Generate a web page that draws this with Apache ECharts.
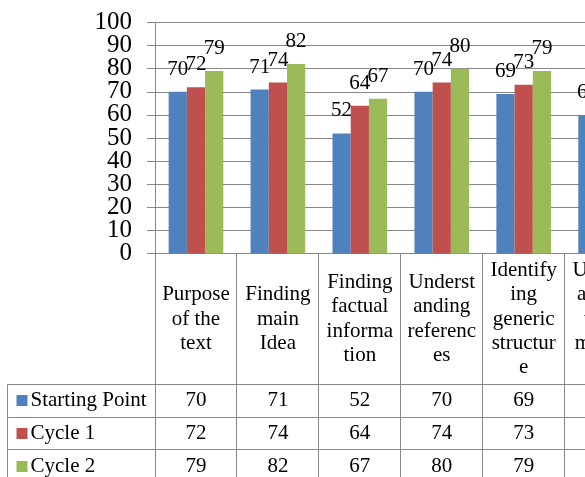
<!DOCTYPE html>
<html>
<head>
<meta charset="utf-8">
<script src="https://cdn.jsdelivr.net/npm/echarts@6/dist/echarts.min.js"></script>
<style>
  html, body { margin: 0; padding: 0; background: #fff; overflow: hidden; width: 585px; height: 477px; }
  #chart { width: 680px; height: 500px; }
</style>
</head>
<body>
<div id="chart"></div>
<script>
// Reading skill categories and scores per cycle
const categories = [
  'Purpose of the text',
  'Finding main Idea',
  'Finding factual information',
  'Understanding references',
  'Identifying generic structure',
  'Understanding word meaning'
];
const seriesNames = ['Starting Point', 'Cycle 1', 'Cycle 2'];
const startingPoint = [70, 71, 52, 70, 69, 60];
const cycle1 = [72, 74, 64, 74, 73, null];
const cycle2 = [79, 82, 67, 80, 79, null];
const yMin = 0, yMax = 100, yStep = 10;

const seriesValues = [startingPoint, cycle1, cycle2];
const colors = ['#4F81BD', '#C0504D', '#9BBB59'];
const FONT_FAMILY = '"Liberation Serif", "Times New Roman", serif';
const LINE = '#878787';
const TABLE_FONT = 21;
const HEADER_H = 131;
const ROW_H = 32.6;
const LEGEND_W = 147.5;
const WRAP_W = 70.5;

// Word wrap like a spreadsheet cell: words first, then characters for long words
const measureCtx = document.createElement('canvas').getContext('2d');
measureCtx.font = TABLE_FONT + 'px ' + FONT_FAMILY;
function textWidth(s) { return measureCtx.measureText(s).width; }
function wrapLabel(text, maxW) {
  const out = [];
  let line = '';
  text.split(' ').forEach(word => {
    const candidate = line ? line + ' ' + word : word;
    if (textWidth(candidate) <= maxW) { line = candidate; return; }
    if (line) out.push(line);
    line = '';
    let chunk = '';
    for (const ch of word) {
      if (chunk && textWidth(chunk + ch) > maxW) { out.push(chunk); chunk = ch; }
      else chunk += ch;
    }
    line = chunk;
  });
  if (line) out.push(line);
  return out;
}

function crisp(v) { return Math.round(v - 0.5) + 0.5; }
function hLine(x1, x2, y) {
  return { type: 'line', shape: { x1: x1, y1: crisp(y), x2: x2, y2: crisp(y) }, style: { stroke: LINE, lineWidth: 1 } };
}
function vLine(x, y1, y2) {
  return { type: 'line', shape: { x1: crisp(x), y1: y1, x2: crisp(x), y2: y2 }, style: { stroke: LINE, lineWidth: 1 } };
}
function cellText(str, x, y, align) {
  return {
    type: 'text',
    style: {
      text: str, x: x, y: y,
      align: align || 'center', verticalAlign: 'middle',
      fontSize: TABLE_FONT, fontFamily: FONT_FAMILY, lineHeight: 24.4, fill: '#000'
    }
  };
}

// Data table under the plot: one column per category, plus the legend column
function renderTable(params, api) {
  const idx = api.value(0);
  const p = api.coord([idx, 0]);
  const w = api.size([1, 0])[0];
  const left = p[0] - w / 2, right = p[0] + w / 2, y0 = p[1];
  const rowsTop = y0 + HEADER_H;
  const bottom = rowsTop + ROW_H * seriesNames.length;
  const children = [];

  children.push(vLine(right, y0, bottom));
  children.push(cellText(wrapLabel(categories[idx], WRAP_W).join('\n'), p[0], y0 + HEADER_H / 2));
  seriesNames.forEach((name, r) => {
    const top = rowsTop + r * ROW_H;
    children.push(hLine(left, right, top));
    const v = seriesValues[r][idx];
    if (v != null) children.push(cellText(String(v), p[0], top + ROW_H / 2));
  });
  children.push(hLine(left, right, bottom));

  if (idx === 0) {
    const lx = left - LEGEND_W;
    children.push(vLine(left, y0, bottom));
    children.push(vLine(lx, rowsTop, bottom));
    seriesNames.forEach((name, r) => {
      const top = rowsTop + r * ROW_H;
      const cy = top + ROW_H / 2;
      children.push(hLine(lx, left, top));
      children.push({ type: 'rect', shape: { x: lx + 9, y: Math.round(cy - 5.5), width: 11, height: 11 }, style: { fill: colors[r] } });
      children.push(cellText(name, lx + 23, cy, 'left'));
    });
    children.push(hLine(lx, left, bottom));
  }
  return { type: 'group', children: children };
}

const chart = echarts.init(document.getElementById('chart'), null, { renderer: 'canvas' });

const barSeries = seriesNames.map((name, i) => ({
  name: name,
  type: 'bar',
  yAxisIndex: 0,
  data: seriesValues[i],
  barGap: '0%',
  barCategoryGap: '33.3%',
  itemStyle: { color: colors[i] },
  label: {
    show: true,
    position: 'top',
    distance: 12,
    color: '#000',
    fontSize: TABLE_FONT,
    fontFamily: FONT_FAMILY
  },
  silent: true
}));

const yLabelStyle = { color: '#000', fontSize: 25, fontFamily: FONT_FAMILY, margin: 23 };
const isEnd = v => v === yMin || v === yMax;

chart.setOption({
  animation: false,
  backgroundColor: '#fff',
  grid: { left: 155, top: 22.5, width: 491.6, height: 231, containLabel: false },
  xAxis: {
    type: 'category',
    data: categories,
    boundaryGap: true,
    axisLine: { show: true, lineStyle: { color: LINE, width: 1 } },
    axisTick: { show: false },
    axisLabel: { show: false },
    splitLine: { show: false }
  },
  yAxis: [
    {
      // main value axis: line, ticks, gridlines and the inner tick labels
      type: 'value', position: 'left',
      min: yMin, max: yMax, interval: yStep,
      axisLine: { show: true, lineStyle: { color: LINE, width: 1 } },
      axisTick: { show: true, inside: false, length: 8, lineStyle: { color: LINE, width: 1 } },
      axisLabel: Object.assign({ formatter: v => (isEnd(v) ? '' : String(v)) }, yLabelStyle),
      splitLine: { show: true, lineStyle: { color: LINE, width: 1 } }
    },
    {
      // same scale, carries the end labels (0 and 100)
      type: 'value', position: 'left', offset: 0,
      min: yMin, max: yMax, interval: yStep,
      axisLine: { show: false },
      axisTick: { show: false },
      axisLabel: Object.assign({ showMinLabel: true, showMaxLabel: true, formatter: v => (isEnd(v) ? String(v) : '') }, yLabelStyle),
      splitLine: { show: false }
    }
  ],
  series: barSeries.concat([{
    type: 'custom',
    name: 'table',
    yAxisIndex: 0,
    data: categories.map((c, i) => [i, 0]),
    encode: { x: 0, y: 1 },
    renderItem: renderTable,
    clip: false,
    silent: true,
    z: 1
  }])
});
</script>
</body>
</html>
